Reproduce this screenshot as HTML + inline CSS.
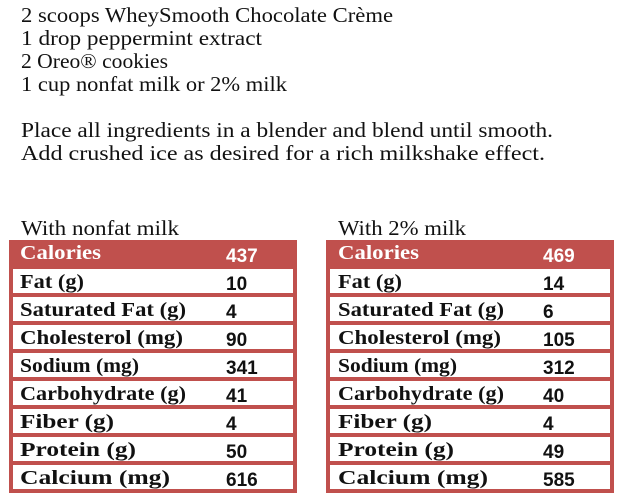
<!DOCTYPE html>
<html><head><meta charset="utf-8"><style>
html,body{margin:0;padding:0;background:#fff;}
svg{display:block;}
.t{font-family:"Liberation Serif",serif;font-size:21px;fill:#111;}
.l{font-family:"Liberation Serif",serif;font-size:20px;font-weight:bold;fill:#111;}
.n{font-family:"Liberation Sans",sans-serif;font-size:19px;font-weight:bold;fill:#111;}
.w{fill:#fff;}
</style></head><body>
<svg width="620" height="498" viewBox="0 0 620 498" xmlns="http://www.w3.org/2000/svg">
<g font-family="Liberation Serif, serif">
<text class="t" font-family="Liberation Serif, serif" x="21" y="22" textLength="372" lengthAdjust="spacingAndGlyphs">2 scoops WheySmooth Chocolate Crème</text>
<text class="t" font-family="Liberation Serif, serif" x="21" y="45" textLength="241" lengthAdjust="spacingAndGlyphs">1 drop peppermint extract</text>
<text class="t" font-family="Liberation Serif, serif" x="21" y="68" textLength="147" lengthAdjust="spacingAndGlyphs">2 Oreo® cookies</text>
<text class="t" font-family="Liberation Serif, serif" x="21" y="91" textLength="266" lengthAdjust="spacingAndGlyphs">1 cup nonfat milk or 2% milk</text>
<text class="t" font-family="Liberation Serif, serif" x="21" y="137" textLength="532" lengthAdjust="spacingAndGlyphs">Place all ingredients in a blender and blend until smooth.</text>
<text class="t" font-family="Liberation Serif, serif" x="21" y="160" textLength="524" lengthAdjust="spacingAndGlyphs">Add crushed ice as desired for a rich milkshake effect.</text>
<text class="t" font-family="Liberation Serif, serif" x="21" y="235" textLength="158" lengthAdjust="spacingAndGlyphs">With nonfat milk</text>
<text class="t" font-family="Liberation Serif, serif" x="338" y="235" textLength="128" lengthAdjust="spacingAndGlyphs">With 2% milk</text>
</g>

<rect x="9" y="240" width="288" height="253" fill="#c0504d"/>
<rect x="326" y="240" width="288" height="253" fill="#c0504d"/>
<g fill="#fff">
<rect x="13" y="269" width="280" height="24"/><rect x="13" y="297" width="280" height="24"/><rect x="13" y="325" width="280" height="24"/><rect x="13" y="353" width="280" height="24"/><rect x="13" y="381" width="280" height="24"/><rect x="13" y="409" width="280" height="24"/><rect x="13" y="437" width="280" height="24"/><rect x="13" y="465" width="280" height="24"/>
<rect x="330" y="269" width="280" height="24"/><rect x="330" y="297" width="280" height="24"/><rect x="330" y="325" width="280" height="24"/><rect x="330" y="353" width="280" height="24"/><rect x="330" y="381" width="280" height="24"/><rect x="330" y="409" width="280" height="24"/><rect x="330" y="437" width="280" height="24"/><rect x="330" y="465" width="280" height="24"/>
</g>

<g>
<text class="l w" x="20" y="259" textLength="81" lengthAdjust="spacingAndGlyphs">Calories</text>
<text class="l" x="20" y="288" textLength="64" lengthAdjust="spacingAndGlyphs">Fat (g)</text>
<text class="l" x="20" y="316" textLength="166" lengthAdjust="spacingAndGlyphs">Saturated Fat (g)</text>
<text class="l" x="20" y="344" textLength="163" lengthAdjust="spacingAndGlyphs">Cholesterol (mg)</text>
<text class="l" x="20" y="372" textLength="119" lengthAdjust="spacingAndGlyphs">Sodium (mg)</text>
<text class="l" x="20" y="400" textLength="166" lengthAdjust="spacingAndGlyphs">Carbohydrate (g)</text>
<text class="l" x="20" y="428" textLength="94" lengthAdjust="spacingAndGlyphs">Fiber (g)</text>
<text class="l" x="20" y="456" textLength="116" lengthAdjust="spacingAndGlyphs">Protein (g)</text>
<text class="l" x="20" y="484" textLength="150" lengthAdjust="spacingAndGlyphs">Calcium (mg)</text>
<text class="n w" x="226" y="262">437</text>
<text class="n" x="226" y="290">10</text>
<text class="n" x="226" y="318">4</text>
<text class="n" x="226" y="346">90</text>
<text class="n" x="226" y="374">341</text>
<text class="n" x="226" y="402">41</text>
<text class="n" x="226" y="430">4</text>
<text class="n" x="226" y="458">50</text>
<text class="n" x="226" y="486">616</text>
</g>
<g>
<text class="l w" x="338" y="259" textLength="81" lengthAdjust="spacingAndGlyphs">Calories</text>
<text class="l" x="338" y="288" textLength="64" lengthAdjust="spacingAndGlyphs">Fat (g)</text>
<text class="l" x="338" y="316" textLength="166" lengthAdjust="spacingAndGlyphs">Saturated Fat (g)</text>
<text class="l" x="338" y="344" textLength="163" lengthAdjust="spacingAndGlyphs">Cholesterol (mg)</text>
<text class="l" x="338" y="372" textLength="119" lengthAdjust="spacingAndGlyphs">Sodium (mg)</text>
<text class="l" x="338" y="400" textLength="166" lengthAdjust="spacingAndGlyphs">Carbohydrate (g)</text>
<text class="l" x="338" y="428" textLength="94" lengthAdjust="spacingAndGlyphs">Fiber (g)</text>
<text class="l" x="338" y="456" textLength="116" lengthAdjust="spacingAndGlyphs">Protein (g)</text>
<text class="l" x="338" y="484" textLength="150" lengthAdjust="spacingAndGlyphs">Calcium (mg)</text>
<text class="n w" x="543" y="262">469</text>
<text class="n" x="543" y="290">14</text>
<text class="n" x="543" y="318">6</text>
<text class="n" x="543" y="346">105</text>
<text class="n" x="543" y="374">312</text>
<text class="n" x="543" y="402">40</text>
<text class="n" x="543" y="430">4</text>
<text class="n" x="543" y="458">49</text>
<text class="n" x="543" y="486">585</text>
</g>
</svg>
</body></html>
